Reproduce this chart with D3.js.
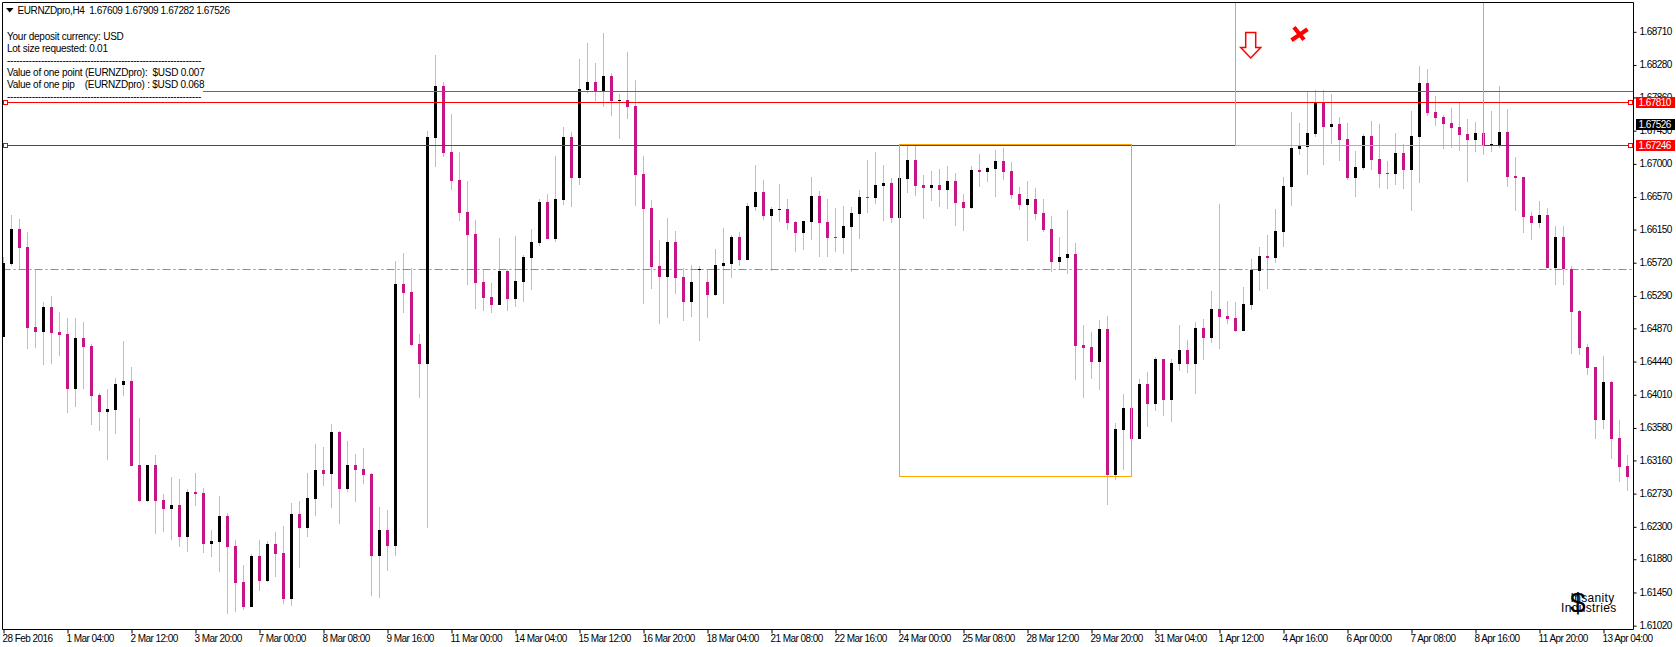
<!DOCTYPE html>
<html>
<head>
<meta charset="utf-8">
<script src="https://cdn.jsdelivr.net/npm/d3@7/dist/d3.min.js"></script>
<style>
  html, body { margin: 0; padding: 0; background: #fff; overflow: hidden; }
  svg { display: block; }
  text { font-family: 'Liberation Sans', sans-serif; font-size: 10px; letter-spacing: -0.25px; white-space: pre; fill: #000; }
  .title { letter-spacing: -0.4px; }
  .axis text { letter-spacing: -0.55px; }
  .logo text { letter-spacing: 0.35px; font-size: 12px; }
</style>
</head>
<body>
<svg id="chart" width="1676" height="647"></svg>
<script>
const opens = [
  1.64758,1.65703,1.66156,1.65923,1.64887,1.64823,1.65146,1.64823,1.64797,1.64084,1.64745,1.64641,1.64007,1.63787,1.63812,1.64136,1.64188,
  1.63100,1.62634,1.63100,1.62647,1.62530,1.62582,1.62168,1.62751,1.62738,1.62077,1.62103,1.62440,1.62051,1.61585,1.61261,1.61922,1.61598,
  1.62077,1.61961,1.61365,1.62466,1.62284,1.62660,1.63035,1.62984,1.63528,1.62789,1.63100,1.63048,1.62984,1.61922,1.62258,1.62051,1.65444,
  1.65341,1.64667,1.64408,1.67335,1.68008,1.67154,1.66791,1.66377,1.66092,1.65470,1.65276,1.65172,1.65613,1.65250,1.65470,1.65781,1.65975,
  1.66506,1.66027,1.66532,1.67348,1.66817,1.67956,1.68060,1.67944,1.68138,1.67814,1.67827,1.67749,1.66869,1.66428,1.65677,1.65535,1.65988,
  1.65535,1.65211,1.65638,1.65470,1.65302,1.65677,1.65703,1.66053,1.65755,1.66441,1.66636,1.66325,1.66402,1.66415,1.66247,1.66105,1.66247,
  1.66584,1.66247,1.66053,1.66040,1.66182,1.66351,1.66571,1.66558,1.66713,1.66752,1.66299,1.66804,1.67050,1.66726,1.66687,1.66726,1.66661,
  1.66778,1.66506,1.66428,1.66920,1.66895,1.66933,1.67037,1.66908,1.66610,1.66467,1.66545,1.66364,1.66156,1.65729,1.65781,1.65833,1.64654,
  1.64628,1.64434,1.64861,1.62971,1.63553,1.63838,1.63437,1.64149,1.63890,1.64473,1.63942,1.64408,1.64589,1.64408,1.64874,1.64745,1.65120,
  1.65030,1.65004,1.64836,1.65172,1.65613,1.65807,1.65781,1.66118,1.66700,1.67192,1.67218,1.67387,1.67788,1.67477,1.67516,1.67322,1.66817,
  1.66946,1.67361,1.67063,1.66882,1.66869,1.67141,1.66920,1.67348,1.68047,1.67672,1.67607,1.67529,1.67477,1.67387,1.67309,1.67400,1.67244,
  1.67244,1.67413,1.66843,1.66830,1.66325,1.66234,1.66338,1.65651,1.66053,1.65638,1.65095,1.64628,1.64369,1.63683,1.64175,1.63450,1.63087,
]
const highs = [
  1.65794,1.66338,1.66286,1.66118,1.65638,1.65211,1.65289,1.65082,1.65004,1.65004,1.64952,1.64667,1.64033,1.64084,1.64227,1.64706,1.64369,
  1.63709,1.63100,1.63230,1.62725,1.62945,1.62919,1.62789,1.62997,1.62802,1.62258,1.62699,1.62479,1.62129,1.61805,1.61948,1.62129,1.62116,
  1.62233,1.62310,1.62608,1.62634,1.62997,1.63372,1.63333,1.63631,1.63541,1.63411,1.63243,1.63320,1.62997,1.62556,1.62517,1.65742,1.65846,
  1.65651,1.64797,1.67426,1.68410,1.68060,1.67646,1.67154,1.66778,1.66273,1.65638,1.65457,1.66040,1.65638,1.66066,1.65820,1.66156,1.66545,
  1.66610,1.67102,1.67477,1.67413,1.68358,1.68565,1.68306,1.68695,1.68177,1.67905,1.68449,1.68086,1.67102,1.66532,1.66014,1.66299,1.66131,
  1.65651,1.65690,1.65677,1.65638,1.65897,1.66169,1.66079,1.66118,1.66493,1.66985,1.66791,1.66441,1.66739,1.66545,1.66260,1.66260,1.66830,
  1.66649,1.66545,1.66428,1.66454,1.66441,1.66661,1.67050,1.67154,1.66985,1.66817,1.66817,1.67244,1.67244,1.66856,1.66908,1.66933,1.66972,
  1.66882,1.66610,1.66972,1.67128,1.66959,1.67179,1.67205,1.67024,1.66700,1.66778,1.66687,1.66545,1.66325,1.66053,1.66402,1.65975,1.64913,
  1.64823,1.64978,1.65030,1.63644,1.64020,1.63838,1.64214,1.64305,1.64499,1.64473,1.64473,1.64913,1.64719,1.64952,1.64991,1.65354,1.66480,
  1.65224,1.65211,1.65405,1.65768,1.65923,1.66079,1.66415,1.66830,1.67672,1.67529,1.67931,1.67956,1.67956,1.67905,1.67607,1.67529,1.67167,
  1.67387,1.67555,1.67516,1.67037,1.67400,1.67257,1.67685,1.68267,1.68228,1.67879,1.67633,1.67723,1.67788,1.67581,1.67542,1.67464,1.67685,
  1.68008,1.67710,1.67089,1.66830,1.66377,1.66519,1.66428,1.66195,1.66195,1.65677,1.65107,1.64667,1.64369,1.64512,1.64188,1.63683,1.63230,
]
const lows = [
  1.64758,1.65677,1.65638,1.64602,1.64615,1.64395,1.64408,1.64512,1.63774,1.63851,1.64084,1.63618,1.63541,1.63165,1.63502,1.63994,1.63087,
  1.62621,1.62621,1.62207,1.62233,1.62129,1.62038,1.61974,1.62569,1.61961,1.61909,1.61715,1.61171,1.61197,1.61222,1.61261,1.61469,1.61585,
  1.61650,1.61300,1.61274,1.61766,1.62168,1.62440,1.62828,1.62543,1.62336,1.62751,1.62621,1.62854,1.61404,1.61378,1.61728,1.61922,1.65069,
  1.64641,1.63968,1.62284,1.66959,1.67089,1.66661,1.66260,1.65431,1.65120,1.65095,1.65069,1.65172,1.65095,1.65146,1.65211,1.65366,1.65936,
  1.66027,1.65988,1.66467,1.66441,1.66726,1.67918,1.67814,1.67736,1.67620,1.67322,1.67581,1.66454,1.65185,1.65379,1.64926,1.65004,1.65315,
  1.64965,1.65017,1.64706,1.65004,1.65289,1.65185,1.65522,1.65677,1.65755,1.66390,1.66273,1.65613,1.66247,1.66143,1.65859,1.65884,1.66014,
  1.65794,1.65794,1.65859,1.65833,1.65600,1.66027,1.66364,1.66480,1.66260,1.66234,1.66299,1.66623,1.66584,1.66286,1.66519,1.66441,1.66415,
  1.66195,1.66131,1.66415,1.66700,1.66765,1.66571,1.66791,1.66545,1.66402,1.66001,1.66273,1.66118,1.65600,1.65625,1.65574,1.64201,1.63968,
  1.64214,1.64071,1.62582,1.62906,1.63035,1.63437,1.63437,1.63592,1.63800,1.63735,1.63657,1.64318,1.64292,1.64020,1.64460,1.64680,1.64602,
  1.64926,1.64823,1.64836,1.65107,1.65354,1.65379,1.65716,1.65923,1.66454,1.67115,1.66856,1.67348,1.66985,1.67257,1.67037,1.66791,1.66571,
  1.66920,1.66920,1.66687,1.66674,1.66726,1.66674,1.66390,1.66752,1.67620,1.67490,1.67192,1.67205,1.67167,1.66765,1.67154,1.67115,1.67154,
  1.67205,1.66700,1.66390,1.66105,1.66014,1.66169,1.65651,1.65431,1.65431,1.64538,1.64525,1.64266,1.63437,1.63566,1.63178,1.62880,1.62764,
]
const closes = [
  1.65716,1.66156,1.65910,1.64874,1.64823,1.65146,1.64810,1.64784,1.64084,1.64745,1.64628,1.63994,1.63787,1.63825,1.64149,1.64188,1.63087,
  1.62634,1.63100,1.62634,1.62530,1.62582,1.62168,1.62751,1.62725,1.62077,1.62116,1.62440,1.62038,1.61572,1.61261,1.61922,1.61598,1.62077,
  1.61948,1.61365,1.62466,1.62284,1.62673,1.63035,1.62984,1.63528,1.62789,1.63100,1.63035,1.62971,1.61922,1.62258,1.62051,1.65444,1.65328,
  1.64654,1.64408,1.67348,1.68008,1.67141,1.66778,1.66364,1.66079,1.65457,1.65263,1.65172,1.65613,1.65250,1.65483,1.65794,1.65988,1.66506,
  1.66027,1.66545,1.67348,1.66817,1.67969,1.68060,1.67944,1.68138,1.67814,1.67827,1.67736,1.66856,1.66415,1.65664,1.65535,1.65988,1.65522,
  1.65211,1.65470,1.65638,1.65302,1.65690,1.65716,1.66053,1.65755,1.66454,1.66636,1.66325,1.66415,1.66415,1.66234,1.66105,1.66260,1.66584,
  1.66234,1.66040,1.66040,1.66195,1.66364,1.66571,1.66558,1.66726,1.66752,1.66299,1.66817,1.67050,1.66713,1.66687,1.66726,1.66661,1.66778,
  1.66493,1.66428,1.66920,1.66895,1.66946,1.67037,1.66895,1.66597,1.66467,1.66545,1.66351,1.66143,1.65729,1.65794,1.65833,1.64641,1.64615,
  1.64434,1.64861,1.62971,1.63566,1.63838,1.63437,1.64149,1.63890,1.64473,1.63942,1.64421,1.64589,1.64408,1.64874,1.64745,1.65120,1.65017,
  1.64991,1.64836,1.65185,1.65625,1.65807,1.65781,1.66131,1.66713,1.67205,1.67231,1.67400,1.67788,1.67477,1.67516,1.67309,1.66817,1.66959,
  1.67361,1.67050,1.66869,1.66869,1.67141,1.66920,1.67361,1.68047,1.67659,1.67594,1.67516,1.67464,1.67374,1.67309,1.67400,1.67231,1.67257,
  1.67413,1.66830,1.66817,1.66312,1.66234,1.66338,1.65651,1.66053,1.65638,1.65082,1.64615,1.64356,1.63683,1.64175,1.63437,1.63074,1.62945,
]
const priceTicks = [1.6102,1.6145,1.6188,1.623,1.6273,1.6316,1.6358,1.6401,1.6444,1.6487,1.6529,1.6572,1.6615,1.6657,1.67,1.6743,1.6786,1.6828,1.6871]
const timeLabels = [
  '28 Feb 2016','1 Mar 04:00','2 Mar 12:00','3 Mar 20:00','7 Mar 00:00','8 Mar 08:00','9 Mar 16:00','11 Mar 00:00','14 Mar 04:00',
  '15 Mar 12:00','16 Mar 20:00','18 Mar 04:00','21 Mar 08:00','22 Mar 16:00','24 Mar 00:00','25 Mar 08:00','28 Mar 12:00','29 Mar 20:00',
  '31 Mar 04:00','1 Apr 12:00','4 Apr 16:00','6 Apr 00:00','7 Apr 08:00','8 Apr 16:00','11 Apr 20:00','13 Apr 04:00',
]
const infoLines = [
  'Your deposit currency: USD',
  'Lot size requested: 0.01',
  '---------------------------------------------------------------',
  'Value of one point (EURNZDpro):  $USD 0.007',
  'Value of one pip    (EURNZDpro) : $USD 0.068',
  '---------------------------------------------------------------',
]
const titleText = 'EURNZDpro,H4  1.67609 1.67909 1.67282 1.67526'
const redLevels = [1.6781, 1.67246]
const bidLevel = 1.67526
const pinkLevel = 1.67947
const blueLevel = 1.65642
// orange boxes: bar index from/to, price top/bottom
const boxes = [
  {from: 112, to: 141, top: 1.67253, bottom: 1.62954},
  {from: 154, to: 185, top: 1.6912, bottom: 1.6724},
]

const width = 1676
const height = 647
const frame = {left: 2.5, top: 2.5, right: 1633.5, bottom: 629.5}
const BLACK = '#000'
const MAGENTA = '#c71585'
const WICK = '#bebebe'
const RED = '#ff0000'
const ORANGE = '#ffa500'

const x = d3.scaleLinear().domain([0, opens.length - 1]).range([3.5, 1627.5])
const y = d3.scaleLinear().domain([1.6102, 1.69122]).range([625.67, 0])
const py = (v) => Math.round(y(v))
const row = (v) => Math.ceil(y(v))

const bars = opens.map((o, i) => ({i, o, h: highs[i], l: lows[i], c: closes[i]}))

const svg = d3.select('#chart').attr('viewBox', `0 0 ${width} ${height}`)
svg.append('clipPath').attr('id', 'plot')
  .append('rect')
  .attr('x', frame.left).attr('y', frame.top)
  .attr('width', frame.right - frame.left).attr('height', frame.bottom - frame.top)

const plot = svg.append('g').attr('clip-path', 'url(#plot)')

plot.selectAll('.wick')
  .data(bars)
  .enter()
  .append('rect')
  .attr('class', 'wick')
  .attr('x', (d) => x(d.i) - 0.5)
  .attr('y', (d) => py(d.h))
  .attr('width', 1)
  .attr('height', (d) => py(d.l) - py(d.h))
  .attr('fill', WICK)

function hline(sel, price, color, x1 = frame.left, x2 = frame.right) {
  const yy = row(price) + 0.5
  return sel.append('line')
    .attr('x1', x1).attr('x2', x2)
    .attr('y1', yy).attr('y2', yy)
    .attr('stroke', color)
    .attr('stroke-width', 1)
}

hline(plot, blueLevel, '#00bfff').attr('stroke-dasharray', '8 3 2 3')

plot.selectAll('.body')
  .data(bars)
  .enter()
  .append('rect')
  .attr('class', 'body')
  .attr('x', (d) => x(d.i) - 1.5)
  .attr('y', (d) => py(Math.max(d.o, d.c)))
  .attr('width', 3)
  .attr('height', (d) => Math.max(1, py(Math.min(d.o, d.c)) - py(Math.max(d.o, d.c))))
  .attr('fill', (d) => (d.c >= d.o ? BLACK : MAGENTA))

hline(plot, pinkLevel, '#e6208f', 203)
redLevels.forEach((v) => hline(plot, v, RED))

plot.selectAll('.box')
  .data(boxes)
  .enter()
  .append('rect')
  .attr('class', 'box')
  .attr('x', (d) => x(d.from))
  .attr('y', (d) => Math.floor(y(d.top)) + 0.5)
  .attr('width', (d) => x(d.to) - x(d.from))
  .attr('height', (d) => Math.floor(y(d.bottom)) - Math.floor(y(d.top)))
  .attr('fill', 'none')
  .attr('stroke', ORANGE)
  .attr('stroke-width', 1)

// line end handles
redLevels.forEach((v) => {
  ;[5.5, 1630.5].forEach((cx) => {
    svg.append('rect')
      .attr('x', cx - 2).attr('y', row(v) - 1.5)
      .attr('width', 4).attr('height', 4)
      .attr('fill', '#fff').attr('stroke', RED).attr('stroke-width', 1)
  })
})

// sell arrow and close cross, anchored on their bar and price
const arrow = svg.append('g').attr('transform', `translate(${x(156) - 0.8}, ${y(1.68533)})`)
arrow.append('path')
  .attr('d', 'M-5,-13 H5 V2 H10 L0,12.5 L-10,2 H-5 Z')
  .attr('fill', '#fff').attr('stroke', RED).attr('stroke-width', 1.5)
const cross = svg.append('g').attr('transform', `translate(${x(162)}, ${y(1.68685)})`)
cross.append('path')
  .attr('d', 'M-5.5,-6.5 L4.5,6 M-8,6.5 L8,-4.5')
  .attr('fill', 'none').attr('stroke', RED).attr('stroke-width', 4.2)

// frame
svg.append('path')
  .attr('d', `M${frame.right},${frame.top} H${frame.left} V${frame.bottom}`)
  .attr('fill', 'none').attr('stroke', '#000').attr('stroke-width', 1)

const yAxis = svg.append('g')
  .attr('class', 'axis')
  .attr('transform', `translate(${frame.right}, 0)`)
  .call(d3.axisRight(y).tickValues(priceTicks).tickFormat(d3.format('.5f')).tickSize(3).tickPadding(3))
yAxis.select('.domain').attr('d', `M0,${frame.top} V${frame.bottom}`)
yAxis.selectAll('text').attr('dy', '0.27em')

const xAxis = svg.append('g')
  .attr('class', 'axis')
  .attr('transform', `translate(0, ${frame.bottom})`)
  .call(d3.axisBottom(x)
    .tickValues(timeLabels.map((d, i) => i * 8))
    .tickFormat((d) => timeLabels[d / 8])
    .tickSize(4)
    .tickPadding(1))
xAxis.select('.domain').attr('d', `M${frame.left},0 H${frame.right}`)
xAxis.selectAll('text').attr('text-anchor', 'start').attr('dx', -1.5)

yAxis.attr('font-family', null).attr('font-size', null)
xAxis.attr('font-family', null).attr('font-size', null)

// price labels on the axis
function priceLabel(v, bg) {
  svg.append('rect')
    .attr('x', 1636).attr('y', row(v) - 5)
    .attr('width', 39).attr('height', 11)
    .attr('fill', bg)
  svg.append('text')
    .attr('class', 'title')
    .attr('x', 1638.5).attr('y', row(v) + 4)
    .style('fill', '#fff')
    .style('letter-spacing', '-0.55px')
    .text(d3.format('.5f')(v))
}
priceLabel(bidLevel, BLACK)
redLevels.forEach((v) => priceLabel(v, RED))

// header
svg.append('path').attr('d', 'M6,8 H13.5 L9.75,12.5 Z').attr('fill', '#000')
svg.append('text').attr('class', 'title').attr('x', 17.5).attr('y', 14).text(titleText)
svg.selectAll('.info')
  .data(infoLines)
  .enter()
  .append('text')
  .attr('class', 'info')
  .attr('x', 7)
  .attr('y', (d, i) => 40 + i * 12)
  .text((d) => d)

// watermark
const logo = svg.append('g').attr('class', 'logo')
logo.append('text').attr('x', 1570.5).attr('y', 602).text('Insanity')
logo.append('text').attr('x', 1561).attr('y', 611.5).text('Industries')
logo.append('text').attr('x', 1578).attr('y', 611.5).attr('text-anchor', 'middle').style('font-size', '28px').text('$')
</script>
</body>
</html>
